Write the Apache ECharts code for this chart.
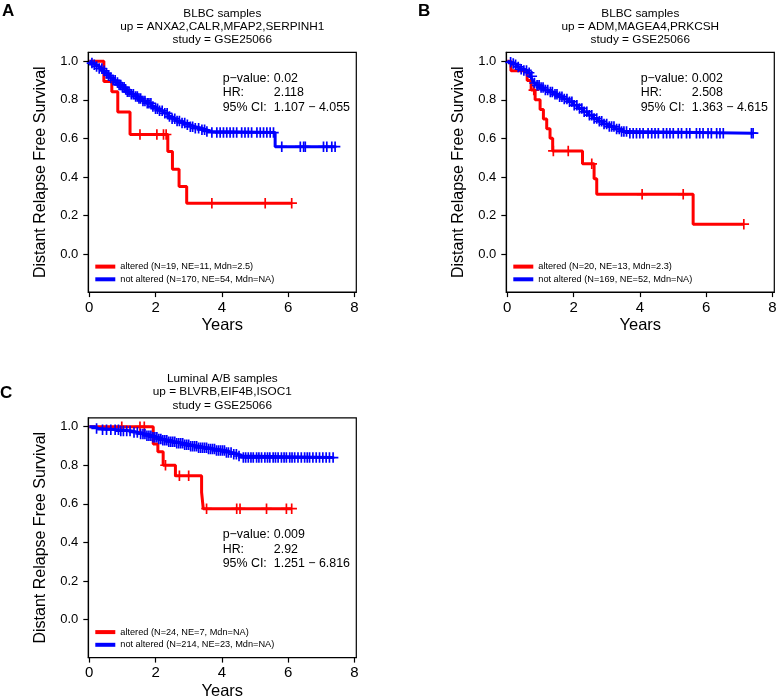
<!DOCTYPE html>
<html><head><meta charset="utf-8">
<script src="https://cdn.jsdelivr.net/npm/echarts@6/dist/echarts.min.js"></script>
<style>html,body{margin:0;padding:0;background:#fff}#c{width:778px;height:696px}</style>
</head><body><div id="c"></div>
<script>
// ---------- Panel A ----------
const A_title = ['BLBC samples', 'up = ANXA2,CALR,MFAP2,SERPINH1', 'study = GSE25066'];
const A_stats = ['0.02', '2.118', '1.107 \u2212 4.055'];
const A_altName = 'altered (N=19, NE=11, Mdn=2.5)';
const A_notName = 'not altered (N=170, NE=54, Mdn=NA)';
const A_altTimes = [0, 0.44, 0.68, 0.86, 1.23, 2.37, 2.51, 2.71, 2.94];
const A_altSurv  = [1, 0.895, 0.842, 0.737, 0.62, 0.532, 0.44, 0.35, 0.264];
const A_altCens  = [1.53, 2.04, 2.24, 2.32, 3.70, 5.31, 6.11];
const A_notTimes = [0, 0.05, 0.12, 0.2, 0.3, 0.4, 0.47, 0.55, 0.63, 0.72, 0.8, 0.88, 0.97, 1.06, 1.15, 1.25, 1.38, 1.48, 1.6, 1.72, 1.88, 2.0, 2.12, 2.25, 2.39, 2.5, 2.62, 2.75, 2.89, 3.05, 3.2, 3.4, 3.55, 3.7, 5.61];
const A_notSurv  = [1, 0.99, 0.982, 0.973, 0.962, 0.95, 0.938, 0.926, 0.913, 0.901, 0.889, 0.877, 0.865, 0.853, 0.841, 0.829, 0.817, 0.806, 0.794, 0.782, 0.765, 0.754, 0.743, 0.73, 0.713, 0.702, 0.69, 0.68, 0.67, 0.66, 0.652, 0.644, 0.636, 0.63, 0.557];
const A_notCens  = [0.08, 0.15, 0.22, 0.3, 0.38, 0.45, 0.52, 0.58, 0.65, 0.72, 0.78, 0.85, 0.9, 0.95, 1.0, 1.05, 1.1, 1.15, 1.2, 1.27, 1.33, 1.4, 1.45, 1.5, 1.55, 1.62, 1.68, 1.75, 1.8, 1.86, 1.92, 2.0, 2.06, 2.12, 2.2, 2.28, 2.35, 2.42, 2.5, 2.58, 2.65, 2.72, 2.8, 2.88, 2.96, 3.05, 3.12, 3.2, 3.3, 3.4, 3.48,
  3.55, 3.70, 3.85, 3.95, 4.05, 4.15, 4.25, 4.35, 4.45, 4.6, 4.7, 4.8, 4.9, 5.06, 5.16, 5.26, 5.36, 5.46, 5.56,
  5.81, 6.37, 6.47, 6.52, 7.07, 7.17, 7.32, 7.42];

// ---------- Panel B ----------
const B_title = ['BLBC samples', 'up = ADM,MAGEA4,PRKCSH', 'study = GSE25066'];
const B_stats = ['0.002', '2.508', '1.363 \u2212 4.615'];
const B_altName = 'altered (N=20, NE=13, Mdn=2.3)';
const B_notName = 'not altered (N=169, NE=52, Mdn=NA)';
const B_altTimes = [0, 0.11, 0.6, 0.72, 0.84, 0.99, 1.09, 1.19, 1.29, 1.37, 2.27, 2.62, 2.70, 5.61];
const B_altSurv  = [1, 0.95, 0.90, 0.85, 0.80, 0.75, 0.70, 0.65, 0.60, 0.535, 0.468, 0.39, 0.31, 0.155];
const B_altCens  = [0.8, 1.39, 1.84, 2.55, 4.07, 5.31, 7.14];
const B_notTimes = [0, 0.06, 0.12, 0.2, 0.28, 0.4, 0.5, 0.6, 0.7, 0.75, 0.8, 0.88, 0.98, 1.1, 1.25, 1.4, 1.55, 1.7, 1.85, 2.0, 2.15, 2.3, 2.45, 2.6, 2.75, 2.9, 3.05, 3.25, 3.45, 3.62];
const B_notSurv  = [1, 0.994, 0.988, 0.982, 0.97, 0.958, 0.952, 0.94, 0.922, 0.905, 0.887, 0.875, 0.863, 0.851, 0.84, 0.828, 0.816, 0.804, 0.79, 0.772, 0.755, 0.738, 0.72, 0.703, 0.688, 0.674, 0.661, 0.648, 0.636, 0.627];
const B_notCens  = [0.1, 0.18, 0.25, 0.33, 0.42, 0.5, 0.58, 0.66, 0.74, 0.82, 0.9, 0.96, 1.02, 1.08, 1.15, 1.22, 1.3, 1.36, 1.44, 1.5, 1.58, 1.65, 1.72, 1.8, 1.88, 1.95, 2.02, 2.1, 2.18, 2.25, 2.32, 2.4, 2.48, 2.55, 2.62, 2.7, 2.78, 2.85, 2.92, 3.0, 3.08, 3.15, 3.22, 3.3, 3.38, 3.45, 3.52, 3.6,
  3.70, 3.80, 3.90, 4.00, 4.10, 4.25, 4.36, 4.46, 4.56, 4.71, 4.81, 4.91, 5.01, 5.16, 5.26, 5.41, 5.51, 5.71, 5.81, 5.91, 6.06, 6.16, 6.32, 6.42, 6.52, 7.37, 7.42];

// ---------- Panel C ----------
const C_title = ['Luminal A/B samples', 'up = BLVRB,EIF4B,ISOC1', 'study = GSE25066'];
const C_stats = ['0.009', '2.92', '1.251 \u2212 6.816'];
const C_altName = 'altered (N=24, NE=7, Mdn=NA)';
const C_notName = 'not altered (N=214, NE=23, Mdn=NA)';
const C_altTimes = [0, 1.93, 2.07, 2.23, 2.60, 3.39, 3.44];
const C_altSurv  = [1, 0.91, 0.87, 0.80, 0.745, 0.66, 0.575];
const C_altCens  = [0.98, 1.53, 1.66, 2.3, 2.72, 3.0, 3.54, 4.45, 4.55, 5.35, 5.95, 6.11];
const C_notTimes = [0, 0.15, 0.27, 0.9, 1.3, 1.5, 1.7, 1.9, 2.05, 2.2, 2.4, 2.6, 2.85, 3.05, 3.3, 3.55, 3.8, 4.1, 4.3, 4.5, 4.62];
const C_notSurv  = [1, 0.991, 0.984, 0.977, 0.97, 0.962, 0.953, 0.945, 0.936, 0.93, 0.922, 0.914, 0.906, 0.899, 0.891, 0.884, 0.876, 0.866, 0.857, 0.848, 0.84];
const C_notCens  = [0.22, 0.4, 0.52, 0.65, 0.78, 0.88, 0.95, 1.03, 1.13, 1.23, 1.35, 1.45, 1.55, 1.62, 1.68, 1.74, 1.8, 1.86, 1.92, 1.98, 2.04, 2.1, 2.16, 2.22, 2.28, 2.34, 2.4, 2.46, 2.52, 2.58, 2.64, 2.7, 2.76, 2.82, 2.88, 2.94, 3.0, 3.06, 3.12, 3.18, 3.24, 3.3, 3.36, 3.42, 3.48, 3.54, 3.6, 3.66, 3.72, 3.78, 3.84, 3.9, 3.96, 4.02, 4.08, 4.14, 4.2, 4.28, 4.36, 4.44, 4.52,
  4.65, 4.72, 4.8, 4.88, 4.95, 5.05, 5.12, 5.2, 5.3, 5.38, 5.45, 5.55, 5.62, 5.7, 5.8, 5.88, 5.95, 6.05, 6.12, 6.2, 6.3, 6.4, 6.5, 6.58, 6.65, 6.75, 6.85, 6.95, 7.05, 7.15, 7.25, 7.36];

const yTicks = [0, 0.2, 0.4, 0.6, 0.8, 1.0];
const xTicks = [0, 2, 4, 6, 8];
const statLabels = ['p\u2212value:', 'HR:', '95% CI:'];
const letters = ['A', 'B', 'C'];

const RED = '#ff0000', BLUE = '#0000ff';
const FONT = '"Liberation Sans", Arial, Helvetica, sans-serif';
const XMIN = -0.03, XMAX = 8.06, YMIN = -0.197, YMAX = 1.046;
const GW = 268, GH = 239.8;

const panels = [
  {gx: 88.3, gy: 52.3, title: A_title, stats: A_stats, statY: 26, titleY: [-38.6, -25.6, -12.6], letter: [2, 11],
   alt: {name: A_altName, t: A_altTimes, s: A_altSurv, c: A_altCens}, not: {name: A_notName, t: A_notTimes, s: A_notSurv, c: A_notCens}},
  {gx: 506.3, gy: 52.3, title: B_title, stats: B_stats, statY: 26, titleY: [-38.6, -25.6, -12.6], letter: [418, 11],
   alt: {name: B_altName, t: B_altTimes, s: B_altSurv, c: B_altCens}, not: {name: B_notName, t: B_notTimes, s: B_notSurv, c: B_notCens}},
  {gx: 88.3, gy: 417.8, title: C_title, stats: C_stats, statY: 117.2, titleY: [-39.3, -25.8, -12.3], letter: [0, 393],
   alt: {name: C_altName, t: C_altTimes, s: C_altSurv, c: C_altCens}, not: {name: C_notName, t: C_notTimes, s: C_notSurv, c: C_notCens}}
];

function survAt(times, surv, t) {
  let v = surv[0];
  for (let i = 0; i < times.length; i++) { if (times[i] <= t) v = surv[i]; }
  return v;
}
function lineData(g) {
  const d = g.t.map((t, i) => [t, g.s[i]]);
  const end = Math.max(...g.c);
  if (end > g.t[g.t.length - 1]) d.push([end, g.s[g.s.length - 1]]);
  return d;
}
function censData(g) { return g.c.map(t => [t, survAt(g.t, g.s, t)]); }

const PLUS = 'path://M4.2,0H5.8V4.2H10V5.8H5.8V10H4.2V5.8H0V4.2H4.2Z';

const grid = [], xAxis = [], yAxis = [], series = [], legend = [], graphic = [];
panels.forEach((p, i) => {
  grid.push({left: p.gx, top: p.gy, width: GW, height: GH, show: true, borderColor: '#000', borderWidth: 1.2,
    backgroundColor: 'transparent', containLabel: false, outerBoundsMode: 'none'});
  xAxis.push({type: 'value', gridIndex: i, min: XMIN, max: XMAX,
    axisLine: {show: true, onZero: false, lineStyle: {color: '#000', width: 1.2}},
    axisTick: {show: true, customValues: xTicks, length: 5, inside: false, lineStyle: {color: '#000', width: 1.2}},
    axisLabel: {show: true, customValues: xTicks, color: '#000', fontSize: 15, fontFamily: FONT, margin: 8},
    splitLine: {show: false},
    name: 'Years', nameLocation: 'middle', nameGap: 25, nameTextStyle: {color: '#000', fontSize: 16.5, fontFamily: FONT}});
  yAxis.push({type: 'value', gridIndex: i, min: YMIN, max: YMAX,
    axisLine: {show: true, onZero: false, lineStyle: {color: '#000', width: 1.2}},
    axisTick: {show: true, customValues: yTicks, length: 5, inside: false, lineStyle: {color: '#000', width: 1.2}},
    axisLabel: {show: true, customValues: yTicks, color: '#000', fontSize: 13, fontFamily: FONT, margin: 10,
      formatter: v => Number(v).toFixed(1)},
    splitLine: {show: false},
    name: 'Distant Relapse Free Survival', nameLocation: 'middle', nameGap: 40,
    nameTextStyle: {color: '#000', fontSize: 16, fontFamily: FONT}});
  [[p.alt, RED], [p.not, BLUE]].forEach(([g, col]) => {
    series.push({type: 'line', name: g.name, xAxisIndex: i, yAxisIndex: i, step: 'end', data: lineData(g),
      showSymbol: false, symbol: 'none', lineStyle: {color: col, width: 3}, itemStyle: {color: col},
      animation: false, silent: true, z: 2});
    series.push({type: 'scatter', xAxisIndex: i, yAxisIndex: i, data: censData(g), symbol: PLUS, symbolSize: 10.5,
      itemStyle: {color: col, opacity: 1}, animation: false, silent: true, z: 3});
  });
  legend.push({left: p.gx + 7, top: p.gy + GH - 30.5, orient: 'vertical', icon: 'rect', itemWidth: 20, itemHeight: 4,
    itemGap: 2.7, padding: 0, selectedMode: false, data: [p.alt.name, p.not.name],
    textStyle: {color: '#000', fontSize: 9.2, fontFamily: FONT, lineHeight: 10}});
  const cx = p.gx + 134;
  p.title.forEach((t, k) => graphic.push({type: 'text', x: cx, y: p.gy + p.titleY[k],
    style: {text: t, fill: '#000', font: '11.8px ' + FONT, align: 'center', verticalAlign: 'middle'}}));
  statLabels.forEach((t, k) => {
    graphic.push({type: 'text', x: p.gx + 134.4, y: p.gy + p.statY + k * 14.5,
      style: {text: t, fill: '#000', font: '12.4px ' + FONT, align: 'left', verticalAlign: 'middle'}});
    graphic.push({type: 'text', x: p.gx + 185.5, y: p.gy + p.statY + k * 14.5,
      style: {text: p.stats[k], fill: '#000', font: '12.4px ' + FONT, align: 'left', verticalAlign: 'middle'}});
  });
  graphic.push({type: 'text', x: p.letter[0], y: p.letter[1],
    style: {text: letters[i], fill: '#000', font: 'bold 17px ' + FONT, align: 'left', verticalAlign: 'middle'}});
});

const chart = echarts.init(document.getElementById('c'), null, {renderer: 'canvas'});
chart.setOption({animation: false, backgroundColor: '#fff', grid, xAxis, yAxis, series, legend, graphic});
</script></body></html>
